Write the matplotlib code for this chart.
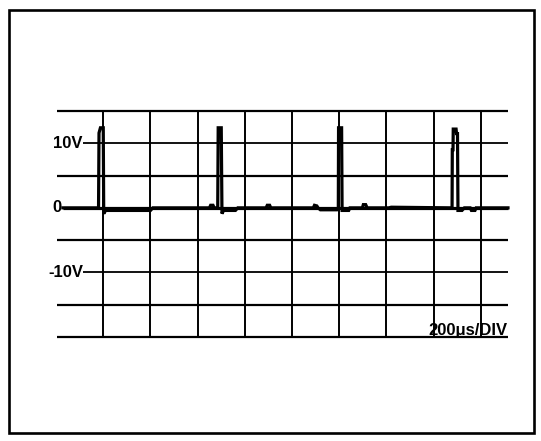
import matplotlib
matplotlib.use("Agg")
from matplotlib import pyplot as plt
from matplotlib.patches import Rectangle

plt.rcParams['font.family'] = ['Liberation Sans', 'DejaVu Sans']

# scope screen: 200us per division, 5V per division
time_grid = [0, 200, 400, 600, 800, 1000, 1200, 1400, 1600]
volt_grid = [15, 10, 5, 0, -5, -10, -15, -20]
volt_labels = {10: '10V', 0: '0', -10: '-10V'}

# trace (time in us, voltage in V)
trace_t = [-171, -20, -18, -12, 0, 2, 10, 200, 210, 450, 455, 465, 470,
           485, 487, 500, 503, 510, 560, 570, 690, 695, 705, 710,
           890, 895, 905, 910, 920, 990, 996, 997, 1010, 1012, 1040, 1045,
           1098, 1102, 1112, 1118, 1210, 1220, 1478, 1479, 1482, 1483, 1495,
           1497, 1501, 1503, 1520, 1530, 1555, 1560, 1575, 1580, 1715]
trace_v = [0, 0, 11.6, 12.4, 12.4, -0.9, -0.4, -0.4, 0, 0, 0.4, 0.4, 0,
           0, 12.4, 12.4, -0.9, -0.4, -0.4, 0, 0, 0.4, 0.4, 0,
           0, 0.4, 0.3, 0, -0.3, -0.3, 0, 12.4, 12.4, -0.4, -0.4, 0,
           0, 0.5, 0.5, 0, 0, 0.1, 0, 9.0, 9.0, 12.2, 12.2,
           11.5, 11.5, -0.4, -0.4, 0, 0, -0.4, -0.4, 0, 0]

fig = plt.figure(figsize=(5.41, 4.41), dpi=100)
fig.patches.append(Rectangle((9 / 541, 8 / 441), 525 / 541, 423 / 441,
                             transform=fig.transFigure, fill=False,
                             edgecolor='black', linewidth=1.9))

ax = fig.add_axes([57 / 541, 104 / 441, 451 / 541, 226 / 441])
ax.set_xlim(-196, 1715)
ax.set_ylim(-20, 15)
ax.axis('off')

for v in volt_grid:
    if v == 0:
        ax.hlines(v, -171, 1715, color='black', linewidth=2.3, clip_on=False)
    elif v in volt_labels:
        ax.hlines(v, -84, 1715, color='black', linewidth=1.3, clip_on=False)
    else:
        ax.hlines(v, -196, 1715, color='black', linewidth=1.6, clip_on=False)

ax.vlines(time_grid, -20, 15, color='black', linewidth=1.4, clip_on=False)

for v, lab in volt_labels.items():
    xpos = -176 if v == 0 else -86
    ax.text(xpos, v, lab, ha='right', va='center', fontsize=12,
            fontweight='heavy')

ax.plot(trace_t, trace_v, color='black', linewidth=2.3,
        solid_joinstyle='miter', clip_on=False)

ax.text(1711, -19.7, '200\u03bcs/DIV', ha='right', va='baseline',
        fontsize=12, fontweight='heavy')

plt.savefig('out.png', dpi=100)
